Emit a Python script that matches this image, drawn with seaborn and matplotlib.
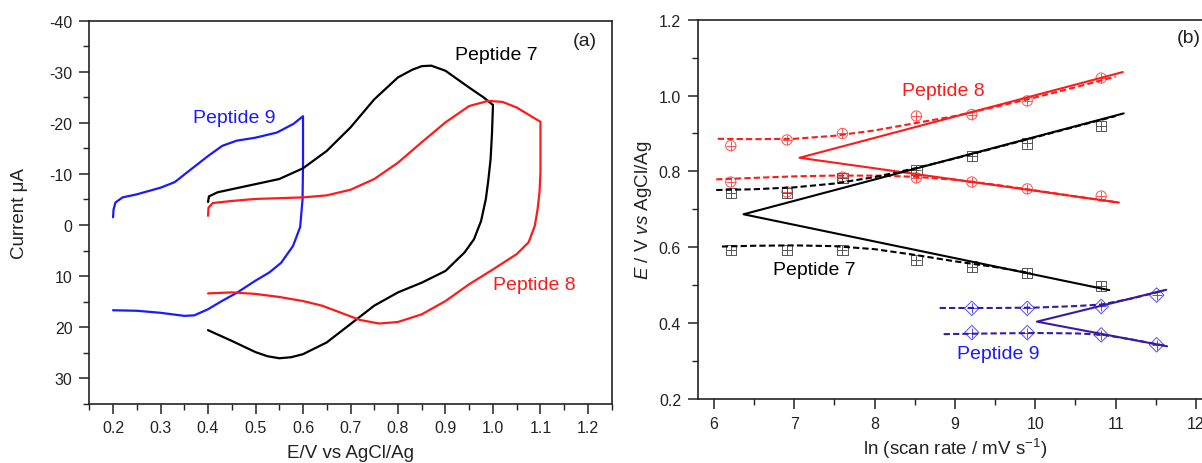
import numpy as np
import pandas as pd
import matplotlib
matplotlib.use('Agg')
import matplotlib.pyplot as plt
from matplotlib.ticker import MultipleLocator
import seaborn as sns

# ---- panel (a): cyclic voltammograms ----
e9 = [0.200, 0.201, 0.205, 0.22, 0.25, 0.30, 0.33, 0.36, 0.40, 0.43, 0.46, 0.50, 0.545, 0.58, 0.600,
      0.600, 0.599, 0.594, 0.579, 0.554, 0.529, 0.50, 0.462, 0.429, 0.40, 0.371, 0.35, 0.30, 0.25, 0.20]
i9 = [-1.5, -3.0, -4.4, -5.4, -6.0, -7.3, -8.4, -10.6, -13.5, -15.5, -16.5, -17.1, -18.1, -19.8, -21.3,
      -11.6, -5.0, 0.4, 4.1, 7.4, 9.3, 10.9, 13.2, 14.9, 16.5, 17.7, 17.8, 17.2, 16.8, 16.7]

e7 = [0.400, 0.402, 0.42, 0.45, 0.50, 0.55, 0.60, 0.65, 0.70, 0.75, 0.80, 0.83, 0.85, 0.87, 0.90, 0.95, 0.98, 1.00,
      0.998, 0.995, 0.99, 0.985, 0.975, 0.96, 0.94, 0.90, 0.85, 0.80, 0.75, 0.70, 0.65, 0.60, 0.575, 0.55, 0.525,
      0.50, 0.45, 0.40]
i7 = [-4.5, -5.6, -6.4, -7.0, -8.0, -9.0, -11.1, -14.5, -19.1, -24.6, -28.9, -30.4, -31.1, -31.2, -30.2, -26.9, -25.0, -23.5,
      -18.1, -12.9, -8.6, -5.1, -0.8, 2.8, 5.4, 9.0, 11.3, 13.2, 15.8, 19.4, 23.0, 25.3, 25.9, 26.1, 25.7,
      24.9, 22.7, 20.6]

e8 = [0.400, 0.401, 0.41, 0.45, 0.50, 0.60, 0.65, 0.70, 0.75, 0.80, 0.85, 0.90, 0.95, 0.99, 1.02, 1.05, 1.10,
      1.100, 1.100, 1.098, 1.094, 1.088, 1.075, 1.05, 1.00, 0.95, 0.90, 0.85, 0.80, 0.76, 0.72, 0.68, 0.64,
      0.60, 0.55, 0.50, 0.45, 0.40]
i8 = [-1.8, -3.4, -4.3, -4.7, -5.1, -5.4, -5.8, -6.9, -9.0, -12.2, -16.2, -20.1, -23.3, -24.3, -24.1, -23.0, -20.2,
      -14.9, -10.3, -6.4, -3.1, 0.2, 3.4, 5.7, 8.7, 11.6, 14.9, 17.5, 19.0, 19.3, 18.6, 17.2, 15.8,
      14.9, 14.1, 13.5, 13.2, 13.4]

# ---- panel (b): peak potentials vs ln(scan rate) ----
ln_rate = [6.21, 6.91, 7.60, 8.52, 9.21, 9.90, 10.82]
ln_rate9 = [9.21, 9.90, 10.82, 11.51]
ep8_a = [0.868, 0.883, 0.900, 0.946, 0.950, 0.986, 1.046]
ep8_c = [0.772, 0.746, 0.785, 0.783, 0.772, 0.754, 0.735]
ep7_a = [0.744, 0.744, 0.783, 0.803, 0.840, 0.874, 0.919]
ep7_c = [0.593, 0.593, 0.593, 0.567, 0.549, 0.533, 0.498]
ep9_a = [0.439, 0.439, 0.444, 0.474]
ep9_c = [0.375, 0.375, 0.369, 0.343]

# linear fits (V shapes): upper end, vertex, lower end
fit8_x = [11.09, 7.066, 11.04]
fit8_y = [1.062, 0.836, 0.718]
fit7_x = [11.10, 6.37, 10.92]
fit7_y = [0.953, 0.687, 0.487]
fit9_x = [11.63, 10.02, 11.64]
fit9_y = [0.488, 0.404, 0.339]

# dashed curve fits
d8a_x = [6.05, 6.5, 7.0, 7.5, 8.0, 8.5, 9.0, 9.5, 10.0, 10.5, 11.0]
d8a_y = [0.886, 0.885, 0.886, 0.894, 0.908, 0.927, 0.946, 0.970, 0.995, 1.022, 1.050]
d8c_x = [6.03, 6.5, 7.0, 7.5, 8.0, 8.5, 9.0, 9.5, 10.0, 10.5, 11.03]
d8c_y = [0.779, 0.783, 0.787, 0.789, 0.789, 0.786, 0.778, 0.765, 0.750, 0.734, 0.718]
d7a_x = [6.03, 6.5, 7.0, 7.5, 8.0, 8.5, 9.0, 9.5, 10.0, 10.5, 11.0]
d7a_y = [0.751, 0.753, 0.758, 0.768, 0.785, 0.808, 0.834, 0.862, 0.890, 0.918, 0.946]
d7c_x = [6.10, 6.5, 7.0, 7.5, 8.0, 8.5, 9.0, 9.5, 9.94]
d7c_y = [0.602, 0.604, 0.605, 0.603, 0.595, 0.580, 0.563, 0.548, 0.532]
d9a_x = [8.81, 9.5, 10.0, 10.5, 10.82, 11.2, 11.6]
d9a_y = [0.440, 0.440, 0.441, 0.445, 0.449, 0.465, 0.486]
d9c_x = [8.86, 9.5, 10.0, 10.5, 10.82, 11.2, 11.6]
d9c_y = [0.371, 0.373, 0.374, 0.373, 0.370, 0.357, 0.341]

sns.set_style('white')
plt.rcParams['font.family'] = ['Liberation Sans', 'DejaVu Sans']
plt.rcParams['mathtext.fontset'] = 'custom'
plt.rcParams['mathtext.rm'] = 'Liberation Sans'
plt.rcParams['mathtext.it'] = 'Liberation Sans:italic'
plt.rcParams['axes.unicode_minus'] = False

fig = plt.figure(figsize=(12.02, 4.64), dpi=100)
ax1 = fig.add_axes([0.0743, 0.1278, 0.4346, 0.8254])
ax2 = fig.add_axes([0.5805, 0.1379, 0.4279, 0.8175])

RED = '#ff1a1a'
BLUE = '#1a1aff'
INDIGO = '#3a1aa0'

for e, i, c in [(e9, i9, BLUE), (e7, i7, 'black'), (e8, i8, RED)]:
    sns.lineplot(x=e, y=i, sort=False, estimator=None, color=c, lw=1.6, ax=ax1)

ax1.set_xlim(0.15, 1.25)
ax1.set_ylim(35, -40)
ax1.xaxis.set_minor_locator(MultipleLocator(0.05))
ax1.yaxis.set_minor_locator(MultipleLocator(5))
xt = [0.2, 0.3, 0.4, 0.5, 0.6, 0.7, 0.8, 0.9, 1.0, 1.1, 1.2]
ax1.set_xticks(xt)
ax1.set_xticklabels([f'{v:.1f}' for v in xt])
ax1.set_yticks(range(-40, 31, 10))
ax1.set_yticklabels([str(v) for v in range(-40, 31, 10)])
ax1.set_xlabel('E/V vs AgCl/Ag', fontsize=13.5, color='#222222')
ax1.set_ylabel('Current μA', fontsize=13.5, color='#222222')
ax1.xaxis.set_label_coords(0.5, -0.105)
ax1.yaxis.set_label_coords(-0.117, 0.5)
ax1.text(0.92, -33.3, 'Peptide 7', fontsize=14, color='black', va='center')
ax1.text(0.368, -21.0, 'Peptide 9', fontsize=14, color=BLUE, va='center')
ax1.text(1.001, 11.6, 'Peptide 8', fontsize=14, color=RED, va='center')
ax1.text(1.169, -36.1, '(a)', fontsize=14, color='#222222', va='center')

# panel (b)
def pts(ax, x, y, mk, col):
    sns.scatterplot(x=x, y=y, marker=mk, s=55, facecolors='none', edgecolor=col, linewidth=0.7, ax=ax)
    sns.scatterplot(x=x, y=y, marker='+', s=55, color=col, linewidth=0.7, ax=ax)

pts(ax2, ln_rate, ep8_a, 'o', '#ff5050')
pts(ax2, ln_rate, ep8_c, 'o', '#ff5050')
pts(ax2, ln_rate, ep7_a, 's', '#555555')
pts(ax2, ln_rate, ep7_c, 's', '#555555')
pts(ax2, ln_rate9, ep9_a, 'D', '#5050ff')
pts(ax2, ln_rate9, ep9_c, 'D', '#5050ff')

for dx, dy, c in [(d8a_x, d8a_y, RED), (d8c_x, d8c_y, RED), (d7a_x, d7a_y, 'black'),
                  (d7c_x, d7c_y, 'black'), (d9a_x, d9a_y, INDIGO), (d9c_x, d9c_y, INDIGO)]:
    sns.lineplot(x=dx, y=dy, sort=False, estimator=None, color=c, lw=1.5, ax=ax2,
                 dashes=False, linestyle=(0, (3, 1.5)))
for fx, fy, c in [(fit8_x, fit8_y, RED), (fit7_x, fit7_y, 'black'), (fit9_x, fit9_y, INDIGO)]:
    sns.lineplot(x=fx, y=fy, sort=False, estimator=None, color=c, lw=1.5, ax=ax2)

ax2.set_xlim(5.8, 12.2)
ax2.set_ylim(0.2, 1.2)
ax2.xaxis.set_minor_locator(MultipleLocator(0.5))
ax2.yaxis.set_minor_locator(MultipleLocator(0.1))
ax2.set_xticks(range(6, 13))
ax2.set_yticks([0.2, 0.4, 0.6, 0.8, 1.0, 1.2])
ax2.set_yticklabels(['0.2', '0.4', '0.6', '0.8', '1.0', '1.2'])
ax2.set_xlabel('ln (scan rate / mV s$^{-1}$)', fontsize=13.5, color='#222222')
ax2.set_ylabel('$E$ / V $vs$ AgCl/Ag', fontsize=13.5, color='#222222')
ax2.xaxis.set_label_coords(0.5, -0.098)
ax2.yaxis.set_label_coords(-0.085, 0.5)
ax2.text(8.85, 1.014, 'Peptide 8', fontsize=14, color=RED, va='center', ha='center')
ax2.text(6.74, 0.542, 'Peptide 7', fontsize=14, color='black', va='center')
ax2.text(9.03, 0.32, 'Peptide 9', fontsize=14, color=BLUE, va='center')
ax2.text(11.755, 1.154, '(b)', fontsize=14, color='#222222', va='center')

for ax in (ax1, ax2):
    for sp in ax.spines.values():
        sp.set_visible(True)
        sp.set_color('#222222')
        sp.set_linewidth(1.2)
    ax.tick_params(which='major', direction='out', length=7, width=1.1, color='#222222', pad=5,
                   labelsize=11.5, labelcolor='#222222', bottom=True, left=True, top=False, right=False)
    ax.tick_params(which='minor', direction='out', length=4, width=1.0, color='#222222',
                   bottom=True, left=True, top=False, right=False)

fig.savefig('out.png', dpi=100)
